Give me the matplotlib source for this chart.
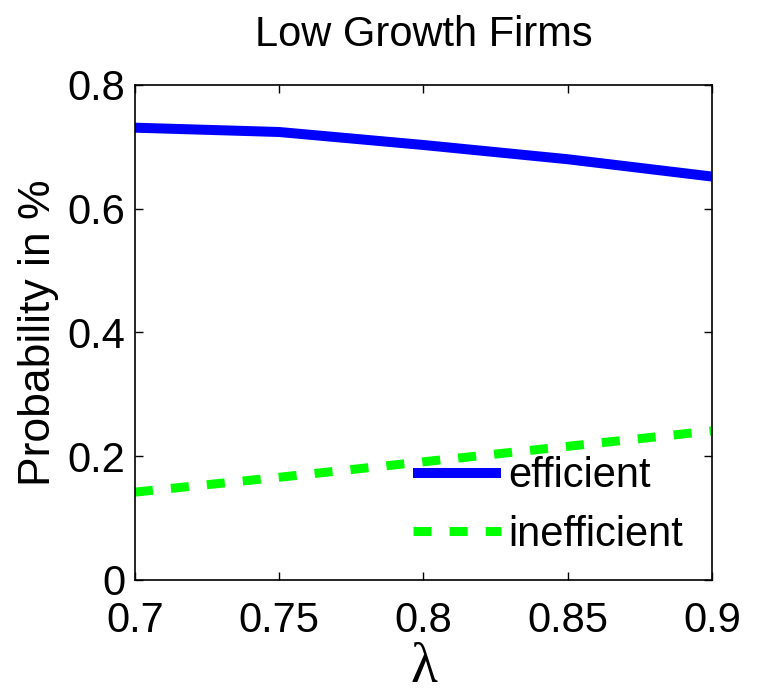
import matplotlib.pyplot as plt

# values
lam = [0.7, 0.75, 0.8, 0.85, 0.9]
efficient = [0.731, 0.724, 0.703, 0.680, 0.652]
inefficient = [0.142, 0.166, 0.191, 0.216, 0.241]

xticks = [0.7, 0.75, 0.8, 0.85, 0.9]
xlabels = ['0.7', '0.75', '0.8', '0.85', '0.9']
yticks = [0, 0.2, 0.4, 0.6, 0.8]
ylabels = ['0', '0.2', '0.4', '0.6', '0.8']

plt.rcParams['font.family'] = ['Liberation Sans', 'DejaVu Sans']
fs = 30

fig = plt.figure(figsize=(7.6, 6.96), dpi=100)
ax = fig.add_axes([0.1776, 0.1667, 0.7592, 0.7112])

ax.plot(lam, efficient, color='#0000ff', lw=7.2, solid_capstyle='butt', label='efficient')
ln, = ax.plot(lam, inefficient, color='#00ff00', lw=6.5, dash_capstyle='butt', label='inefficient')
ln.set_dashes((2, 2))

ax.set_xlim(0.7, 0.9)
ax.set_ylim(0, 0.8)
ax.set_xticks(xticks)
ax.set_xticklabels(xlabels)
ax.set_yticks(yticks)
ax.set_yticklabels(ylabels)

ax.tick_params(direction='in', length=6, width=1, top=True, right=True,
               labelsize=fs, colors='black')
ax.tick_params(axis='x', pad=15)
ax.tick_params(axis='y', pad=7)
for s in ax.spines.values():
    s.set_linewidth(1.2)

ax.set_title('Low Growth Firms', fontsize=fs, pad=28)
ax.set_ylabel('Probability in %', fontsize=32, labelpad=6)
ax.set_xlabel('λ', fontsize=40, family=['Liberation Serif', 'DejaVu Serif'])
ax.xaxis.label.set_va('center')
ax.xaxis.set_label_coords(0.5, -0.178)

ax.legend(loc='upper left', bbox_to_anchor=(0.482, 0.25), frameon=False,
          fontsize=fs, borderpad=0, borderaxespad=0, handlelength=2.1,
          handletextpad=0.18, labelspacing=0.45)

fig.savefig('out.png', dpi=100)
